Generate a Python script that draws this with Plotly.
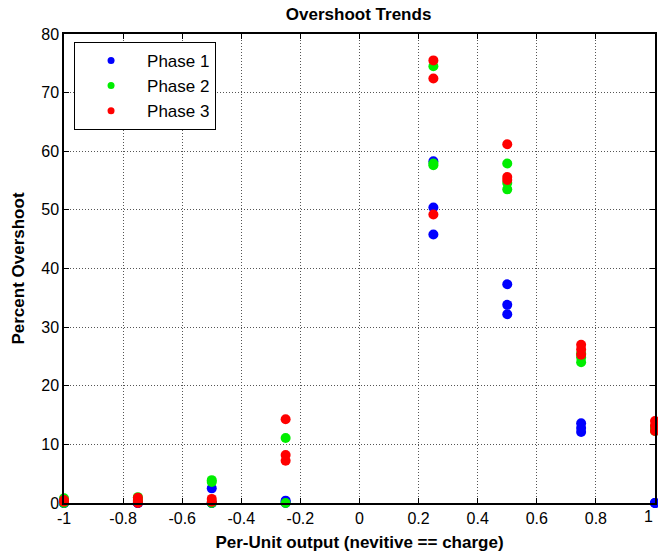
import plotly.graph_objects as go

# Per-unit output (x) positions, three runs per point
x_vals = [-1, -1, -1, -0.75, -0.75, -0.75, -0.5, -0.5, -0.5, -0.25, -0.25, -0.25,
          0, 0.25, 0.25, 0.25, 0.5, 0.5, 0.5, 0.75, 0.75, 0.75, 1, 1, 1]

phase1 = [0, 0, 0, 0, 0, 0, 2.5, 0, 0, 0.4, 0.2, 0,
          -0.2, 58.3, 50.4, 45.8, 37.3, 33.8, 32.2, 13.6, 12.1, 12.8, 0, 0, 0]
phase2 = [0.8, 0.3, 0, 1.0, 0.5, 0.2, 3.9, 3.6, 0, 11.1, -0.2, 0,
          -0.2, 74.5, 57.6, 57.9, 57.9, 54.6, 53.5, 24.0, 24.8, 25.5, 13.0, 12.8, 12.3]
phase3 = [0.5, 0.2, -0.1, 0.9, 0.4, 0, 0.7, 0.2, -0.2, 14.3, 8.2, 7.2,
          -0.2, 75.5, 72.4, 49.2, 61.2, 55.6, 55.1, 27.0, 26.2, 25.3, 14.0, 13.2, 12.3]

series_names = ["Phase 1", "Phase 2", "Phase 3"]
series_colors = ["#0000FF", "#00EE00", "#FF0000"]

x_ticks = [-1, -0.8, -0.6, -0.4, -0.2, 0, 0.2, 0.4, 0.6, 0.8, 1]
x_tick_labels = ["-1", "-0.8", "-0.6", "-0.4", "-0.2", "0", "0.2", "0.4", "0.6", "0.8", "1"]
y_ticks = [0, 10, 20, 30, 40, 50, 60, 70, 80]

FONT = "Liberation Sans, Arial, sans-serif"

fig = go.Figure()
sizes = [6 if xv == 0 else 10 for xv in x_vals]
for name, color, ys in zip(series_names, series_colors, [phase1, phase2, phase3]):
    fig.add_trace(go.Scatter(x=x_vals, y=ys, mode="markers", name=name,
                             marker=dict(color=color, size=sizes, opacity=1, line=dict(width=0)),
                             cliponaxis=False, showlegend=False))
for i, (name, color) in enumerate(zip(series_names, series_colors)):
    fig.add_trace(go.Scatter(x=[None], y=[None], mode="markers", name=name,
                             legendgroup=f"g{i}",
                             marker=dict(color=color, size=7, opacity=1), showlegend=True))

axis_common = dict(
    showline=True, linecolor="black", linewidth=1.5, mirror="ticks",
    ticks="inside", ticklen=5, tickcolor="black",
    showgrid=True, gridcolor="#555", griddash="1px,2px", gridwidth=1,
    zeroline=False, tickfont=dict(family=FONT, size=16, color="black"),
)

fig.update_layout(
    width=658, height=554,
    margin=dict(l=64, r=1, t=34, b=51),
    paper_bgcolor="white", plot_bgcolor="white",
    title=dict(text="<b>Overshoot Trends</b>", x=0.545, xanchor="center",
               y=0.975, yanchor="middle",
               font=dict(family=FONT, size=17, color="black")),
    xaxis=dict(range=[-1, 1], tickvals=x_ticks, ticktext=x_tick_labels,
               title=dict(text="<b>Per-Unit output (nevitive == charge)</b>",
                          font=dict(family=FONT, size=17, color="black"), standoff=10),
               **axis_common),
    yaxis=dict(range=[0, 80], tickvals=y_ticks,
               title=dict(text="<b>Percent Overshoot</b>",
                          font=dict(family=FONT, size=17, color="black"), standoff=12),
               **axis_common),
    legend=dict(x=0.017, y=0.983, xanchor="left", yanchor="top",
                bgcolor="white", bordercolor="black", borderwidth=1,
                font=dict(family=FONT, size=17, color="black"),
                itemwidth=62, tracegroupgap=0, traceorder="grouped"),
    annotations=[dict(x=x_ticks[-1], y=0, xref="x", yref="paper", text=x_tick_labels[-1],
                      showarrow=False, yanchor="top", xanchor="right", yshift=-3,
                      font=dict(family=FONT, size=16, color="black"))],
)

fig.write_html("out.html")
